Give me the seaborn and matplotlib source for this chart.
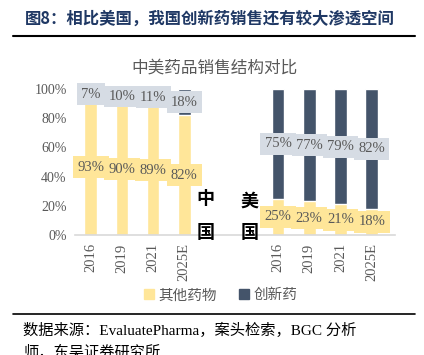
import pandas as pd
import seaborn as sns
import matplotlib.pyplot as plt
from matplotlib.patches import Patch

years = ['2016', '2019', '2021', '2025E']
cn_innov = [7, 10, 11, 18]
cn_other = [93, 90, 89, 82]
us_innov = [75, 77, 79, 82]
us_other = [25, 23, 21, 18]

YELLOW = '#FFE699'
NAVY = '#44546A'
BOXGRAY = '#D6DCE4'
GRAY = '#595959'
SERIF = ['Liberation Serif', 'Noto Sans CJK SC']
CJK = ['Noto Sans CJK SC', 'DejaVu Sans']

sns.set_style('white')
plt.rcParams['font.family'] = CJK

# slots: 4 China years, 2 empty, 4 US years
order = ['中国' + y for y in years] + ['gap1', 'gap2'] + ['美国' + y for y in years]
df = pd.DataFrame({
    'slot': ['中国' + y for y in years] + ['美国' + y for y in years],
    'innov': cn_innov + us_innov,
    'other': cn_other + us_other,
})
df['total'] = df['innov'] + df['other']

fig = plt.figure(figsize=(4.24, 3.55), dpi=100)
ax = fig.add_axes([0.177, 0.338, 0.755, 0.411])

sns.barplot(data=df, x='slot', y='total', order=order, color=NAVY,
            saturation=1, width=0.4, ax=ax)
sns.barplot(data=df, x='slot', y='other', order=order, color=YELLOW,
            saturation=1, width=0.4, ax=ax)

# value labels
for i, row in df.iterrows():
    x = order.index(row['slot'])
    ax.text(x, row['other'] + row['innov'] / 2, f"{row['innov']}%",
            ha='center', va='center', fontsize=10.5, color=GRAY, family=SERIF,
            bbox=dict(boxstyle='square,pad=0.3', fc=BOXGRAY, ec='none'))
    ax.text(x, row['other'] / 2, f"{row['other']}%",
            ha='center', va='center', fontsize=10.5, color=GRAY, family=SERIF,
            bbox=dict(boxstyle='square,pad=0.3', fc=YELLOW, ec='none'))

ax.set_ylim(0, 100)
ax.set_xlim(-0.5, 9.75)
ax.set_yticks([0, 20, 40, 60, 80, 100])
ax.set_yticklabels([f'{v}%' for v in [0, 20, 40, 60, 80, 100]],
                   family=SERIF, fontsize=10, color=GRAY)
ax.set_xticks(range(len(order)))
ax.set_xticklabels(years + ['', ''] + years, rotation=90,
                   family=SERIF, fontsize=10.5, color=GRAY)
ax.tick_params(length=0, pad=6)
ax.set_xlabel('')
ax.set_ylabel('')
sns.despine(ax=ax, left=True)
ax.spines['bottom'].set_color('#D9D9D9')
ax.spines['bottom'].set_linewidth(1.2)

# country labels in the gap
for x, ch, y in [(3.67, '中', 25), (3.67, '国', 2), (5.1, '美', 23), (5.1, '国', 2)]:
    ax.text(x, y, ch, ha='center', va='center', fontsize=13,
            fontweight='bold', color='black')

fig.text(0.507, 0.808, '中美药品销售结构对比', ha='center', va='center',
         fontsize=12, color=GRAY)

handles = [Patch(color=YELLOW, label='其他药物'), Patch(color=NAVY, label='创新药')]
fig.legend(handles=handles, loc='center', bbox_to_anchor=(0.52, 0.168), ncol=2,
           frameon=False, fontsize=10.5, handlelength=0.7, handleheight=0.7,
           handletextpad=0.3, columnspacing=1.5, labelcolor=GRAY)

# header and footer
fig.text(0.058, 0.948, '图8：相比美国，我国创新药销售还有较大渗透空间', ha='left', va='center',
         fontsize=11.8, fontweight='bold', color='#1F3864')
fig.add_artist(plt.Line2D([0.031, 0.979], [0.899, 0.899], color='black', lw=1.5))
fig.add_artist(plt.Line2D([0.031, 0.979], [0.116, 0.116], color='black', lw=1.2))
fig.text(0.055, 0.038, '数据来源：EvaluatePharma，案头检索，BGC 分析\n师，东吴证券研究所',
         ha='left', va='center', fontsize=11, color='black', family=SERIF,
         linespacing=1.55)

fig.savefig('out.png', dpi=100)
